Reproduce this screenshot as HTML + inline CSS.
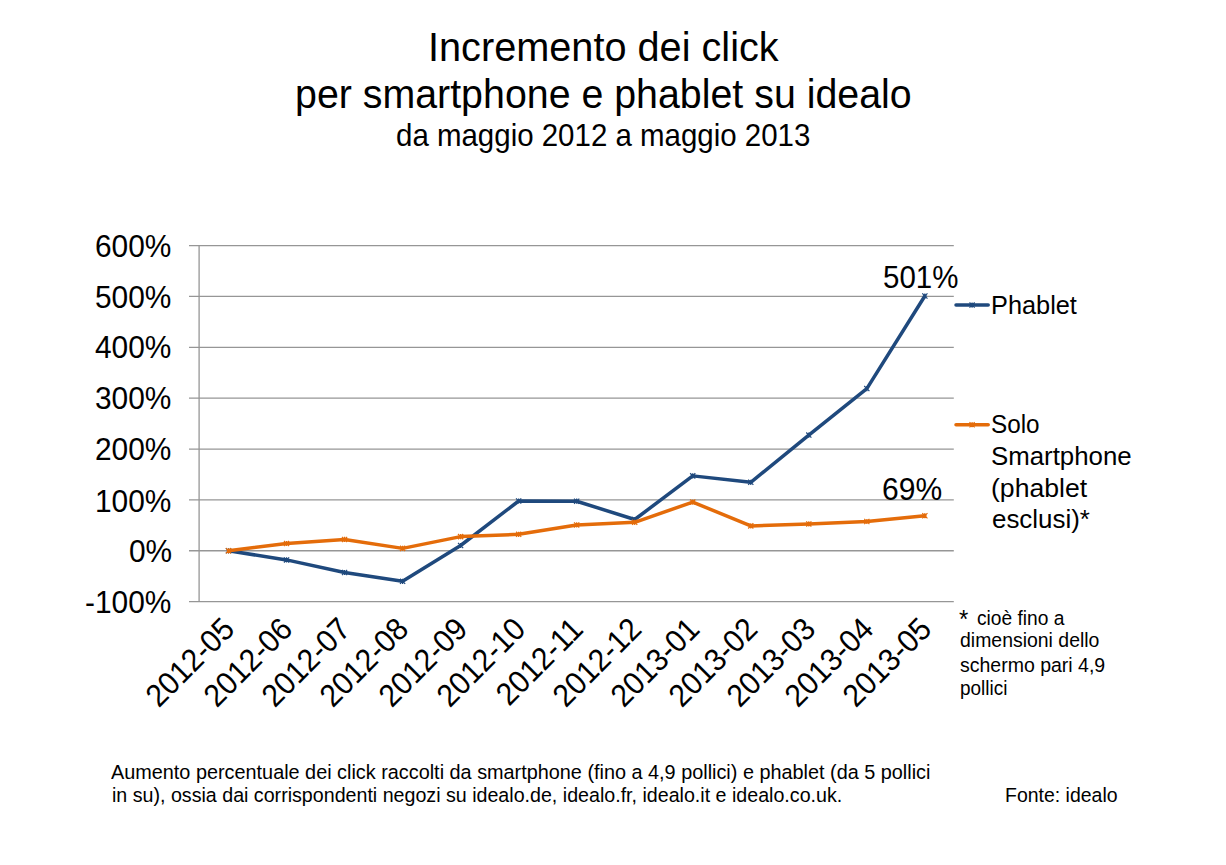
<!DOCTYPE html>
<html><head><meta charset="utf-8"><style>
html,body{margin:0;padding:0;background:#fff;}
body{width:1226px;height:865px;position:relative;overflow:hidden;}
svg{position:absolute;left:0;top:0;}
.t{position:absolute;font-family:"Liberation Sans",sans-serif;line-height:1;white-space:pre;color:#000;transform-origin:0 0;}
.r{transform-origin:100% 50%;}
</style></head><body>
<svg width="1226" height="865" viewBox="0 0 1226 865">
<line x1="189" y1="245.60" x2="953.8" y2="245.60" stroke="#969696" stroke-width="1.3"/>
<line x1="189" y1="296.46" x2="953.8" y2="296.46" stroke="#969696" stroke-width="1.3"/>
<line x1="189" y1="347.32" x2="953.8" y2="347.32" stroke="#969696" stroke-width="1.3"/>
<line x1="189" y1="398.18" x2="953.8" y2="398.18" stroke="#969696" stroke-width="1.3"/>
<line x1="189" y1="449.04" x2="953.8" y2="449.04" stroke="#969696" stroke-width="1.3"/>
<line x1="189" y1="499.90" x2="953.8" y2="499.90" stroke="#969696" stroke-width="1.3"/>
<line x1="189" y1="550.76" x2="953.8" y2="550.76" stroke="#969696" stroke-width="1.3"/>
<line x1="189" y1="601.62" x2="953.8" y2="601.62" stroke="#969696" stroke-width="1.3"/>
<line x1="199.1" y1="245.60" x2="199.1" y2="601.62" stroke="#969696" stroke-width="1.3"/>
<polyline points="228.50,550.80 286.53,559.90 344.56,572.52 402.59,581.32 460.62,545.51 518.65,501.01 576.68,501.21 634.71,519.52 692.74,475.88 750.77,482.29 808.80,435.09 866.83,388.56 924.86,295.99" fill="none" stroke="#1F497D" stroke-width="3.5" stroke-linejoin="round" stroke-linecap="round"/><path d="M225.90,548.20L231.10,553.40M225.90,553.40L231.10,548.20M228.50,548.20L228.50,553.40M283.93,557.30L289.13,562.50M283.93,562.50L289.13,557.30M286.53,557.30L286.53,562.50M341.96,569.92L347.16,575.12M341.96,575.12L347.16,569.92M344.56,569.92L344.56,575.12M399.99,578.72L405.19,583.92M399.99,583.92L405.19,578.72M402.59,578.72L402.59,583.92M458.02,542.91L463.22,548.11M458.02,548.11L463.22,542.91M460.62,542.91L460.62,548.11M516.05,498.41L521.25,503.61M516.05,503.61L521.25,498.41M518.65,498.41L518.65,503.61M574.08,498.61L579.28,503.81M574.08,503.81L579.28,498.61M576.68,498.61L576.68,503.81M632.11,516.92L637.31,522.12M632.11,522.12L637.31,516.92M634.71,516.92L634.71,522.12M690.14,473.28L695.34,478.48M690.14,478.48L695.34,473.28M692.74,473.28L692.74,478.48M748.17,479.69L753.37,484.89M748.17,484.89L753.37,479.69M750.77,479.69L750.77,484.89M806.20,432.49L811.40,437.69M806.20,437.69L811.40,432.49M808.80,432.49L808.80,437.69M864.23,385.96L869.43,391.16M864.23,391.16L869.43,385.96M866.83,385.96L866.83,391.16M922.26,293.39L927.46,298.59M922.26,298.59L927.46,293.39M924.86,293.39L924.86,298.59" stroke="#1F497D" stroke-width="1.2" fill="none"/>
<polyline points="228.50,550.80 286.53,543.48 344.56,539.41 402.59,548.36 460.62,536.61 518.65,534.32 576.68,524.91 634.71,522.32 692.74,502.08 750.77,525.88 808.80,523.90 866.83,521.50 924.86,515.71" fill="none" stroke="#E46C0A" stroke-width="3.5" stroke-linejoin="round" stroke-linecap="round"/><path d="M225.90,548.20L231.10,553.40M225.90,553.40L231.10,548.20M228.50,548.20L228.50,553.40M283.93,540.88L289.13,546.08M283.93,546.08L289.13,540.88M286.53,540.88L286.53,546.08M341.96,536.81L347.16,542.01M341.96,542.01L347.16,536.81M344.56,536.81L344.56,542.01M399.99,545.76L405.19,550.96M399.99,550.96L405.19,545.76M402.59,545.76L402.59,550.96M458.02,534.01L463.22,539.21M458.02,539.21L463.22,534.01M460.62,534.01L460.62,539.21M516.05,531.72L521.25,536.92M516.05,536.92L521.25,531.72M518.65,531.72L518.65,536.92M574.08,522.31L579.28,527.51M574.08,527.51L579.28,522.31M576.68,522.31L576.68,527.51M632.11,519.72L637.31,524.92M632.11,524.92L637.31,519.72M634.71,519.72L634.71,524.92M690.14,499.48L695.34,504.68M690.14,504.68L695.34,499.48M692.74,499.48L692.74,504.68M748.17,523.28L753.37,528.48M748.17,528.48L753.37,523.28M750.77,523.28L750.77,528.48M806.20,521.30L811.40,526.50M806.20,526.50L811.40,521.30M808.80,521.30L808.80,526.50M864.23,518.90L869.43,524.10M864.23,524.10L869.43,518.90M866.83,518.90L866.83,524.10M922.26,513.11L927.46,518.31M922.26,518.31L927.46,513.11M924.86,513.11L924.86,518.31" stroke="#E46C0A" stroke-width="1.2" fill="none"/>
<line x1="956.0" y1="305.1" x2="988.2" y2="305.1" stroke="#1F497D" stroke-width="3.5" stroke-linecap="round"/>
<path d="M969.5,302.5L974.7,307.70000000000005M969.5,307.70000000000005L974.7,302.5M972.1,302.5L972.1,307.70000000000005" stroke="#1F497D" stroke-width="1.2" fill="none"/>
<line x1="956.0" y1="424.7" x2="988.2" y2="424.7" stroke="#E46C0A" stroke-width="3.5" stroke-linecap="round"/>
<path d="M969.5,422.09999999999997L974.7,427.3M969.5,427.3L974.7,422.09999999999997M972.1,422.09999999999997L972.1,427.3" stroke="#E46C0A" stroke-width="1.2" fill="none"/>
</svg>
<div class="t" style="left:427.68px;top:27.26px;font-size:40.8px;transform:scaleX(0.9726)">Incremento dei click</div>
<div class="t" style="left:295.07px;top:74.46px;font-size:40.8px;transform:scaleX(0.9642)">per smartphone e phablet su idealo</div>
<div class="t" style="left:396.07px;top:119.65px;font-size:31.6px;transform:scaleX(0.9323)">da maggio 2012 a maggio 2013</div>
<div class="t" style="left:882.57px;top:262.45px;font-size:31.6px;transform:scaleX(0.9325)">501%</div>
<div class="t" style="left:882.15px;top:474.05px;font-size:31.6px;transform:scaleX(0.95)">69%</div>
<div class="t" style="left:990.73px;top:291.99px;font-size:26.0px;transform:scaleX(0.9739)">Phablet</div>
<div class="t" style="left:990.87px;top:411.19px;font-size:26.0px;transform:scaleX(0.9333)">Solo</div>
<div class="t" style="left:990.81px;top:442.79px;font-size:26.0px;transform:scaleX(0.9929)">Smartphone</div>
<div class="t" style="left:990.78px;top:474.79px;font-size:26.0px;transform:scaleX(1.0234)">(phablet</div>
<div class="t" style="left:991.8px;top:505.99px;font-size:26.0px;transform:scaleX(0.9969)">esclusi)*</div>
<div class="t" style="left:976.5px;top:607.85px;font-size:20.5px;transform:scaleX(0.9351)">cioè fino a</div>
<div class="t" style="left:959.8px;top:630.45px;font-size:20.5px;transform:scaleX(0.9483)">dimensioni dello</div>
<div class="t" style="left:959.8px;top:654.85px;font-size:20.5px;transform:scaleX(0.951)">schermo pari 4,9</div>
<div class="t" style="left:959.8px;top:678.45px;font-size:20.5px;transform:scaleX(0.9235)">pollici</div>
<div class="t" style="left:111.0px;top:761.65px;font-size:20.5px;transform:scaleX(0.9678)">Aumento percentuale dei click raccolti da smartphone (fino a 4,9 pollici) e phablet (da 5 pollici</div>
<div class="t" style="left:112.1px;top:785.45px;font-size:20.5px;transform:scaleX(0.9578)">in su), ossia dai corrispondenti negozi su idealo.de, idealo.fr, idealo.it e idealo.co.uk.</div>
<div class="t" style="left:1005.15px;top:785.05px;font-size:20.5px;transform:scaleX(0.9496)">Fonte: idealo</div>
<div class="t" style="left:94.56px;top:231.05px;font-size:31.6px;transform:scaleX(0.945)">600%</div>
<div class="t" style="left:94.56px;top:281.77px;font-size:31.6px;transform:scaleX(0.945)">500%</div>
<div class="t" style="left:94.56px;top:332.49px;font-size:31.6px;transform:scaleX(0.945)">400%</div>
<div class="t" style="left:94.56px;top:383.21px;font-size:31.6px;transform:scaleX(0.945)">300%</div>
<div class="t" style="left:94.56px;top:433.93px;font-size:31.6px;transform:scaleX(0.945)">200%</div>
<div class="t" style="left:94.56px;top:485.65px;font-size:31.6px;transform:scaleX(0.945)">100%</div>
<div class="t" style="left:128.57px;top:536.37px;font-size:31.6px;transform:scaleX(0.945)">0%</div>
<div class="t" style="left:85.1px;top:587.09px;font-size:31.6px;transform:scaleX(0.945)">-100%</div>
<div class="t" style="left:959.4px;top:605.8px;font-size:26px;transform:scaleX(0.92)">*</div>
<div class="t r" style="right:996.90px;top:607.70px;font-size:31.6px;transform:rotate(-45deg) scaleX(0.945)">2012-05</div>
<div class="t r" style="right:938.81px;top:607.70px;font-size:31.6px;transform:rotate(-45deg) scaleX(0.945)">2012-06</div>
<div class="t r" style="right:880.72px;top:607.70px;font-size:31.6px;transform:rotate(-45deg) scaleX(0.945)">2012-07</div>
<div class="t r" style="right:822.63px;top:607.70px;font-size:31.6px;transform:rotate(-45deg) scaleX(0.945)">2012-08</div>
<div class="t r" style="right:764.54px;top:607.70px;font-size:31.6px;transform:rotate(-45deg) scaleX(0.945)">2012-09</div>
<div class="t r" style="right:706.45px;top:607.70px;font-size:31.6px;transform:rotate(-45deg) scaleX(0.945)">2012-10</div>
<div class="t r" style="right:648.36px;top:607.70px;font-size:31.6px;transform:rotate(-45deg) scaleX(0.945)">2012-11</div>
<div class="t r" style="right:590.27px;top:607.70px;font-size:31.6px;transform:rotate(-45deg) scaleX(0.945)">2012-12</div>
<div class="t r" style="right:532.18px;top:607.70px;font-size:31.6px;transform:rotate(-45deg) scaleX(0.945)">2013-01</div>
<div class="t r" style="right:474.09px;top:607.70px;font-size:31.6px;transform:rotate(-45deg) scaleX(0.945)">2013-02</div>
<div class="t r" style="right:416.00px;top:607.70px;font-size:31.6px;transform:rotate(-45deg) scaleX(0.945)">2013-03</div>
<div class="t r" style="right:357.91px;top:607.70px;font-size:31.6px;transform:rotate(-45deg) scaleX(0.945)">2013-04</div>
<div class="t r" style="right:299.82px;top:607.70px;font-size:31.6px;transform:rotate(-45deg) scaleX(0.945)">2013-05</div>
</body></html>
